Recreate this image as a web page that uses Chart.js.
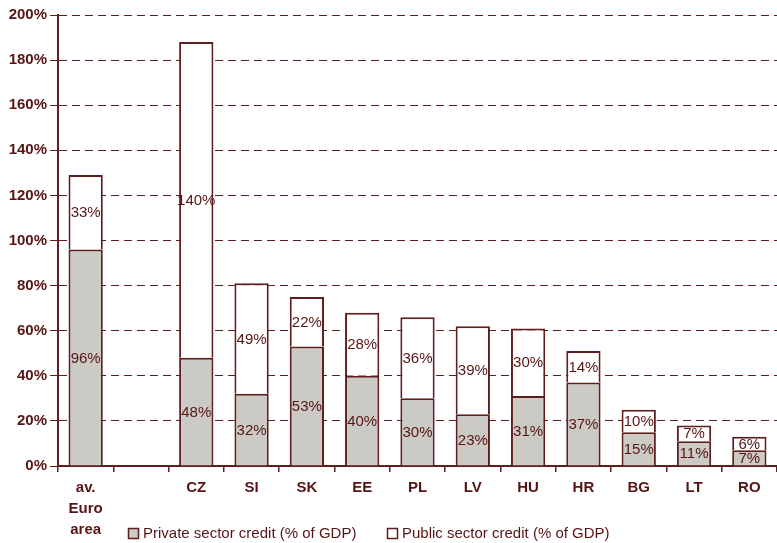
<!DOCTYPE html>
<html>
<head>
<meta charset="utf-8">
<script src="https://cdn.jsdelivr.net/npm/chart.js@4"></script>
<style>
html,body{margin:0;padding:0;background:#fff;}
#wrap{width:777px;height:543px;position:relative;}
</style>
</head>
<body>
<div id="wrap"><canvas id="c" width="777" height="543"></canvas></div>
<script>
const categories = [['av.', 'Euro', 'area'], '', 'CZ', 'SI', 'SK', 'EE', 'PL', 'LV', 'HU', 'HR', 'BG', 'LT', 'RO'];
const privateCredit = [96, null, 48, 32, 53, 40, 30, 23, 31, 37, 15, 11, 7];
const publicCredit = [33, null, 140, 49, 22, 28, 36, 39, 30, 14, 10, 7, 6];
const seriesNames = ['Private sector credit (% of GDP)', 'Public sector credit (% of GDP)'];
const yMin = 0, yMax = 200, yStep = 20;

const FONT = "'Liberation Sans', Arial, sans-serif";
const MAROON = '#561414';
const LINE = '#5e1e1e';
const GRAY = '#cccac5';

const valueLabels = {
  id: 'valueLabels',
  afterDatasetsDraw(chart) {
    const ctx = chart.ctx;
    ctx.save();
    ctx.font = '15px ' + FONT;
    ctx.fillStyle = MAROON;
    ctx.textAlign = 'center';
    ctx.textBaseline = 'middle';
    chart.data.datasets.forEach((ds, i) => {
      const meta = chart.getDatasetMeta(i);
      meta.data.forEach((el, j) => {
        const v = ds.data[j];
        if (v === null || v === undefined) return;
        const p = el.getProps(['x', 'y', 'base'], true);
        ctx.fillText(v + '%', p.x, (p.y + p.base) / 2 + 1);
      });
    });
    ctx.restore();
  }
};

const customLegend = {
  id: 'customLegend',
  afterDraw(chart) {
    const ctx = chart.ctx;
    const items = [
      {x: 128, fill: GRAY, text: seriesNames[0]},
      {x: 387, fill: '#ffffff', text: seriesNames[1]}
    ];
    const cy = 533;
    ctx.save();
    ctx.font = '15px ' + FONT;
    ctx.textBaseline = 'middle';
    ctx.textAlign = 'left';
    items.forEach(it => {
      ctx.fillStyle = it.fill;
      ctx.fillRect(it.x, cy - 5, 10, 10);
      ctx.strokeStyle = LINE;
      ctx.lineWidth = 1.5;
      ctx.strokeRect(it.x + 0.5, cy - 5 + 0.5, 10, 10);
      ctx.fillStyle = MAROON;
      ctx.fillText(it.text, it.x + 15, cy + 1);
    });
    ctx.restore();
  }
};

new Chart(document.getElementById('c'), {
  type: 'bar',
  data: {
    labels: categories,
    datasets: [
      {label: seriesNames[0], data: privateCredit, backgroundColor: GRAY, borderColor: LINE, borderWidth: 2,
       categoryPercentage: 1, barPercentage: 0.62},
      {label: seriesNames[1], data: publicCredit, backgroundColor: '#ffffff', borderColor: LINE, borderWidth: 2,
       categoryPercentage: 1, barPercentage: 0.62}
    ]
  },
  options: {
    responsive: false,
    animation: false,
    layout: {padding: {top: 15, right: -6, left: 0, bottom: 0}},
    plugins: {legend: {display: false}, tooltip: {enabled: false}},
    scales: {
      x: {
        stacked: true,
        grid: {display: true, drawOnChartArea: false, drawTicks: true, tickLength: 6, color: LINE, lineWidth: 1.5, offset: true},
        border: {display: true, color: LINE, width: 2},
        ticks: {color: MAROON, font: {family: FONT, size: 15, weight: 'bold', lineHeight: 1.4}, padding: 5, maxRotation: 0, autoSkip: false},
        afterFit(scale) { scale.height = 77; }
      },
      y: {
        stacked: true,
        min: yMin, max: yMax,
        grid: {color: LINE, lineWidth: 1, tickLength: 8, drawTicks: true, tickColor: LINE},
        border: {display: true, color: LINE, width: 2, dash: [8, 5]},
        ticks: {stepSize: yStep, color: MAROON, padding: 3, font: {family: FONT, size: 15, weight: 'bold'},
                callback: v => v + '%'},
        afterFit(scale) { scale.width = 58; }
      }
    }
  },
  plugins: [valueLabels, customLegend]
});
</script>
</body>
</html>
